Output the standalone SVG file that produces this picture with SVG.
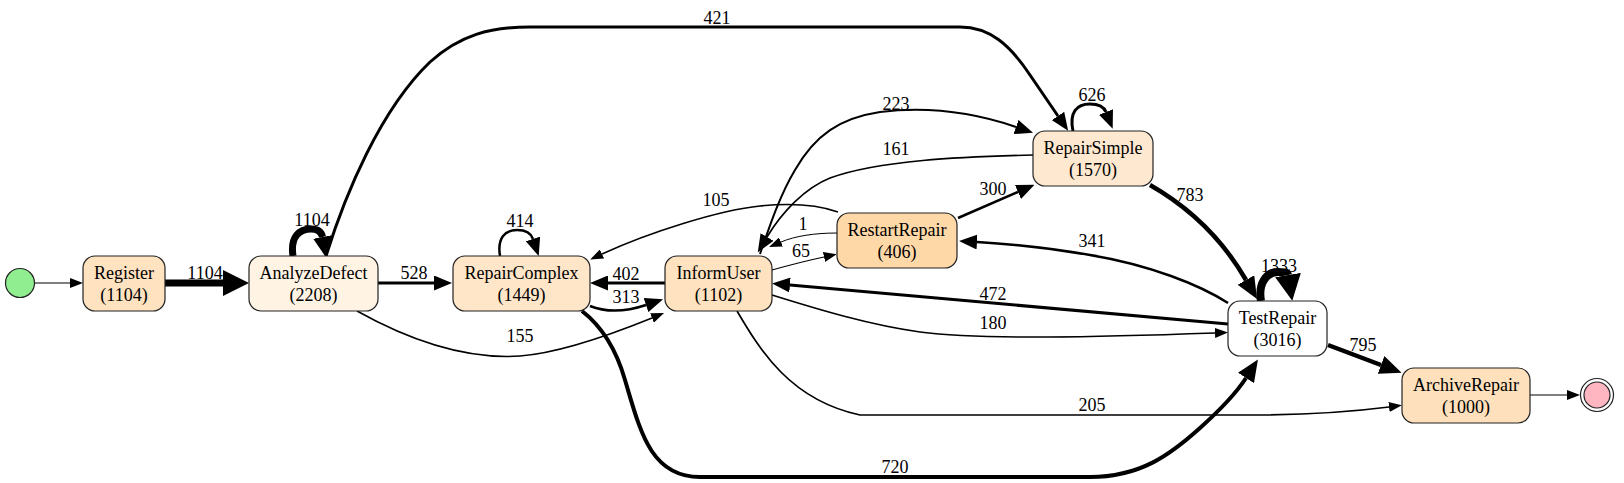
<svg xmlns="http://www.w3.org/2000/svg" width="1624" height="483" viewBox="0 0 1624 483" font-family="'Liberation Serif', 'Times New Roman', serif">
<style>
  .n rect { stroke: #222; stroke-width: 1.2; }
  .t { font-family: 'Liberation Serif', 'Times New Roman', serif; font-size: 18px; fill: #000; text-anchor: middle; }
  .e { fill: none; stroke: #000; stroke-linecap: butt; }
  .l { font-family: 'Liberation Serif', 'Times New Roman', serif; font-size: 18px; fill: #000; text-anchor: middle; }
</style>
<defs>
  <marker id="a1" markerUnits="userSpaceOnUse" markerWidth="13" markerHeight="10" refX="0" refY="5" orient="auto"><path d="M0,0 L13,5 L0,10 Z" fill="#000"/></marker>
  <marker id="a2" markerUnits="userSpaceOnUse" markerWidth="18" markerHeight="15" refX="0" refY="7.5" orient="auto"><path d="M0,0 L18,7.5 L0,15 Z" fill="#000"/></marker>
  <marker id="a3" markerUnits="userSpaceOnUse" markerWidth="22" markerHeight="19" refX="0" refY="9.5" orient="auto"><path d="M0,0 L22,9.5 L0,19 Z" fill="#000"/></marker>
  <marker id="a4" markerUnits="userSpaceOnUse" markerWidth="26" markerHeight="26" refX="0" refY="13" orient="auto"><path d="M0,0 L26,13 L0,26 Z" fill="#000"/></marker>
</defs>
<rect x="0" y="0" width="1624" height="483" fill="#fff"/>

<g id="edges">
  <path class="e" d="M34,283 L70,283" stroke-width="1" marker-end="url(#a1)"/>
  <path class="e" d="M165,283 L223,283" stroke-width="7" marker-end="url(#a4)"/>
  <text class="l" x="205" y="279">1104</text>
  <path class="e" d="M293,256 C290,236 300,229 311,229 C318,229 321.5,232 322.5,237" stroke-width="7" marker-end="url(#a3)"/>
  <text class="l" x="312" y="226">1104</text>
  <path class="e" d="M378,283 L434,283" stroke-width="3" marker-end="url(#a2)"/>
  <text class="l" x="414" y="279">528</text>
  <path class="e" d="M357,311 C400,335 460,360 520,356 C560,353 610,335 652,318" stroke-width="1.5" marker-end="url(#a1)"/>
  <text class="l" x="520" y="342">155</text>
  <path class="e" d="M326,256 C345,195 380,110 430,62 C460,35 490,27 530,27 L960,27 C990,27 1010,45 1030,75 L1058,116" stroke-width="3" marker-end="url(#a2)"/>
  <text class="l" x="717" y="24">421</text>
  <path class="e" d="M500,256 C497,238 505,230 517,230 C526,230 531,233 533,239" stroke-width="2.5" marker-end="url(#a2)"/>
  <text class="l" x="520" y="227">414</text>
  <path class="e" d="M590,306 C605,312 625,312 646,305" stroke-width="2.5" marker-end="url(#a2)"/>
  <text class="l" x="626" y="303">313</text>
  <path class="e" d="M665,283 L608,283" stroke-width="3" marker-end="url(#a2)"/>
  <text class="l" x="626" y="280">402</text>
  <path class="e" d="M582,311 C600,325 615,345 625,380 C640,430 650,477 700,477 L1090,477 C1140,477 1170,455 1200,428 C1220,410 1235,395 1246,378" stroke-width="4" marker-end="url(#a3)"/>
  <text class="l" x="895" y="473">720</text>
  <path class="e" d="M838,212 C815,204 790,203 760,206 C720,210 650,232 602,254" stroke-width="1.5" marker-end="url(#a1)"/>
  <text class="l" x="716" y="206">105</text>
  <path class="e" d="M837,233 C815,233 795,236 781,242" stroke-width="1" marker-end="url(#a1)"/>
  <text class="l" x="803" y="230">1</text>
  <path class="e" d="M772,270 C790,265 805,261 824,257" stroke-width="1.2" marker-end="url(#a1)"/>
  <text class="l" x="801" y="257">65</text>
  <path class="e" d="M760,254 C770,225 780,195 795,170 C815,135 840,118 880,112 C930,106 975,113 1016,127" stroke-width="2" marker-end="url(#a2)"/>
  <text class="l" x="896" y="110">223</text>
  <path class="e" d="M1033,155 C960,157 880,160 830,178 C805,188 782,212 767,237" stroke-width="1.7" marker-end="url(#a2)"/>
  <text class="l" x="896" y="155">161</text>
  <path class="e" d="M958,218 L1018,192" stroke-width="2.5" marker-end="url(#a2)"/>
  <text class="l" x="993" y="195">300</text>
  <path class="e" d="M1073,131 C1069,112 1077,104 1090,104 C1099,104 1104,107 1106,112" stroke-width="3" marker-end="url(#a2)"/>
  <text class="l" x="1092" y="101">626</text>
  <path class="e" d="M1150,185 C1185,205 1220,235 1246,280" stroke-width="4.5" marker-end="url(#a3)"/>
  <text class="l" x="1190" y="201">783</text>
  <path class="e" d="M1228,303 C1200,285 1150,265 1090,255 C1050,248 1010,244 977,242" stroke-width="2.5" marker-end="url(#a2)"/>
  <text class="l" x="1092" y="247">341</text>
  <path class="e" d="M1228,324 L790,285" stroke-width="3" marker-end="url(#a2)"/>
  <text class="l" x="993" y="300">472</text>
  <path class="e" d="M772,295 C820,310 870,325 920,332 C980,340 1100,337 1215,333" stroke-width="1.5" marker-end="url(#a1)"/>
  <text class="l" x="993" y="329">180</text>
  <path class="e" d="M1261,301 C1258,284 1266,272 1278,272 C1283,272 1287.5,272 1288,275" stroke-width="8" marker-end="url(#a4)"/>
  <text class="l" x="1279" y="272">1333</text>
  <path class="e" d="M1328,345 L1381,365" stroke-width="4.5" marker-end="url(#a3)"/>
  <text class="l" x="1363" y="351">795</text>
  <path class="e" d="M737,311 C760,350 790,400 860,415 L1250,415 C1300,415 1350,412 1389,407" stroke-width="1.7" marker-end="url(#a1)"/>
  <text class="l" x="1092" y="411">205</text>
  <path class="e" d="M1530,395 L1567,395" stroke-width="1" marker-end="url(#a1)"/>
</g>

<g id="start"><circle cx="20" cy="283" r="14.5" fill="#90EE90" stroke="#222" stroke-width="1.2"/></g>
<g id="end"><circle cx="1597" cy="395" r="16.5" fill="#fff" stroke="#222" stroke-width="1.2"/><circle cx="1597" cy="395" r="13" fill="#FFB6C1" stroke="#222" stroke-width="1.2"/></g>

<g id="Register" class="n"><rect x="83" y="256" width="82" height="55" rx="12" fill="#FFE2BF"/><text class="t" x="124" y="279">Register</text><text class="t" x="124" y="301">(1104)</text></g>
<g id="AnalyzeDefect" class="n"><rect x="249" y="256" width="129" height="55" rx="12" fill="#FFF3E4"/><text class="t" x="313.5" y="279">AnalyzeDefect</text><text class="t" x="313.5" y="301">(2208)</text></g>
<g id="RepairComplex" class="n"><rect x="453" y="256" width="137" height="55" rx="12" fill="#FFE6C9"/><text class="t" x="521.5" y="279">RepairComplex</text><text class="t" x="521.5" y="301">(1449)</text></g>
<g id="InformUser" class="n"><rect x="665" y="256" width="107" height="55" rx="12" fill="#FFE2BF"/><text class="t" x="718.5" y="279">InformUser</text><text class="t" x="718.5" y="301">(1102)</text></g>
<g id="RestartRepair" class="n"><rect x="837" y="213" width="120" height="55" rx="12" fill="#FFD8A8"/><text class="t" x="897" y="236">RestartRepair</text><text class="t" x="897" y="258">(406)</text></g>
<g id="RepairSimple" class="n"><rect x="1033" y="131" width="120" height="55" rx="12" fill="#FFE8D0"/><text class="t" x="1093" y="154">RepairSimple</text><text class="t" x="1093" y="176">(1570)</text></g>
<g id="TestRepair" class="n"><rect x="1228" y="301" width="99" height="55" rx="12" fill="#FFFFFF"/><text class="t" x="1277.5" y="324">TestRepair</text><text class="t" x="1277.5" y="346">(3016)</text></g>
<g id="ArchiveRepair" class="n"><rect x="1402" y="368" width="128" height="55" rx="12" fill="#FFE0BC"/><text class="t" x="1466" y="391">ArchiveRepair</text><text class="t" x="1466" y="413">(1000)</text></g>
</svg>
